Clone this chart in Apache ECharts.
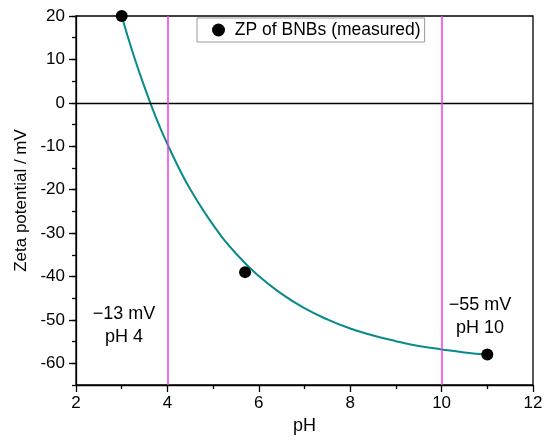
<!DOCTYPE html>
<html>
<head>
<meta charset="utf-8">
<script src="https://cdn.jsdelivr.net/npm/echarts@6/dist/echarts.min.js"></script>
<style>html,body{margin:0;padding:0;background:#fff}#c{width:550px;height:444px}</style>
</head>
<body>
<div id="c"></div>
<script>
// Measured points
const measuredPH = [3.0, 5.7, 11.0];
const measuredZP = [20, -39, -58];
// Fitted curve
const curvePH = [3.0, 3.25, 3.5, 3.75, 4.0, 4.25, 4.5, 5.0, 5.5, 6.0, 6.5, 7.0, 7.5, 8.0, 8.5, 9.0, 9.5, 10.0, 10.5, 11.0];
const curveZP = [20, 11.3, 3.6, -3.4, -9.5, -15.0, -19.9, -28.1, -34.7, -39.9, -44.0, -47.3, -49.9, -52.0, -53.6, -54.9, -56.0, -56.8, -57.5, -58.0];
// Reference lines
const refPH = [4, 10];
const zeroLine = 0;
// Y tick labels
const yTicks = [-60, -50, -40, -30, -20, -10, 0, 10, 20];
// Annotation texts
const noteLeft = ['\u221213 mV', 'pH 4'];
const noteRight = ['\u221255 mV', 'pH 10'];
const FONT = 'Liberation Sans, Arial, sans-serif';

const chart = echarts.init(document.getElementById('c'));
const txt = (s, x, y) => ({type: 'text', style: {text: s, x: x, y: y, align: 'center', verticalAlign: 'middle', fontSize: 18, fill: '#000', fontFamily: FONT}});
chart.setOption({
  animation: false,
  backgroundColor: '#fff',
  textStyle: {fontFamily: FONT},
  grid: {left: 76, right: 17, top: 16, bottom: 59, show: true, borderColor: '#000', borderWidth: 1.3, containLabel: false},
  legend: {
    data: ['ZP of BNBs (measured)'],
    left: 197, top: 18,
    orient: 'vertical',
    borderColor: '#999', borderWidth: 1,
    padding: [3, 4, 3, 15],
    itemWidth: 13, itemHeight: 13, itemGap: 8,
    formatter: n => ' ' + n,
    textStyle: {fontSize: 17.5, color: '#000', fontFamily: FONT}
  },
  xAxis: {
    type: 'value', min: 2, max: 12, interval: 2,
    name: 'pH', nameLocation: 'middle', nameGap: 31,
    nameTextStyle: {fontSize: 18, color: '#000', fontFamily: FONT},
    axisLine: {show: true, onZero: false, lineStyle: {color: '#000', width: 1.3}},
    axisTick: {show: true, inside: false, length: 7, lineStyle: {color: '#000', width: 1.3}},
    minorTick: {show: true, splitNumber: 2, length: 4, lineStyle: {color: '#000', width: 1.3}},
    axisLabel: {fontSize: 17, color: '#000', margin: 10, fontFamily: FONT},
    splitLine: {show: false}
  },
  yAxis: [{
    type: 'value', min: -65, max: 20,
    name: 'Zeta potential / mV', nameLocation: 'middle', nameGap: 42,
    nameTextStyle: {fontSize: 17, color: '#000', fontFamily: FONT},
    axisLine: {show: true, onZero: false, lineStyle: {color: '#000', width: 1.3}},
    axisTick: {show: true, inside: false, length: 7, customValues: yTicks, lineStyle: {color: '#000', width: 1.3}},
    axisLabel: {fontSize: 17, color: '#000', margin: 11, customValues: yTicks, fontFamily: FONT},
    splitLine: {show: false}
  }, {
    type: 'value', min: -65, max: 20, interval: 5, position: 'left',
    axisLine: {show: false},
    axisTick: {show: true, inside: false, length: 4, lineStyle: {color: '#000', width: 1.3}},
    axisLabel: {show: false},
    splitLine: {show: false}
  }],
  series: [{
    name: 'fit', type: 'line', smooth: true, symbol: 'none',
    data: curvePH.map((x, i) => [x, curveZP[i]]),
    lineStyle: {color: '#078a8a', width: 2},
    markLine: {
      silent: true, symbol: 'none', label: {show: false},
      data: [
        {yAxis: zeroLine, lineStyle: {color: '#000', width: 1.3, type: 'solid'}},
        ...refPH.map(v => ({xAxis: v, lineStyle: {color: '#ee3cee', width: 1.5, type: 'solid'}}))
      ]
    },
    z: 2
  }, {
    name: 'ZP of BNBs (measured)', type: 'scatter', symbol: 'circle', symbolSize: 12,
    data: measuredPH.map((x, i) => [x, measuredZP[i]]),
    itemStyle: {color: '#000', opacity: 1},
    z: 3
  }],
  graphic: [
    txt(noteLeft[0], 124, 314), txt(noteLeft[1], 124, 337),
    txt(noteRight[0], 480, 305), txt(noteRight[1], 480, 328)
  ]
});
</script>
</body>
</html>
